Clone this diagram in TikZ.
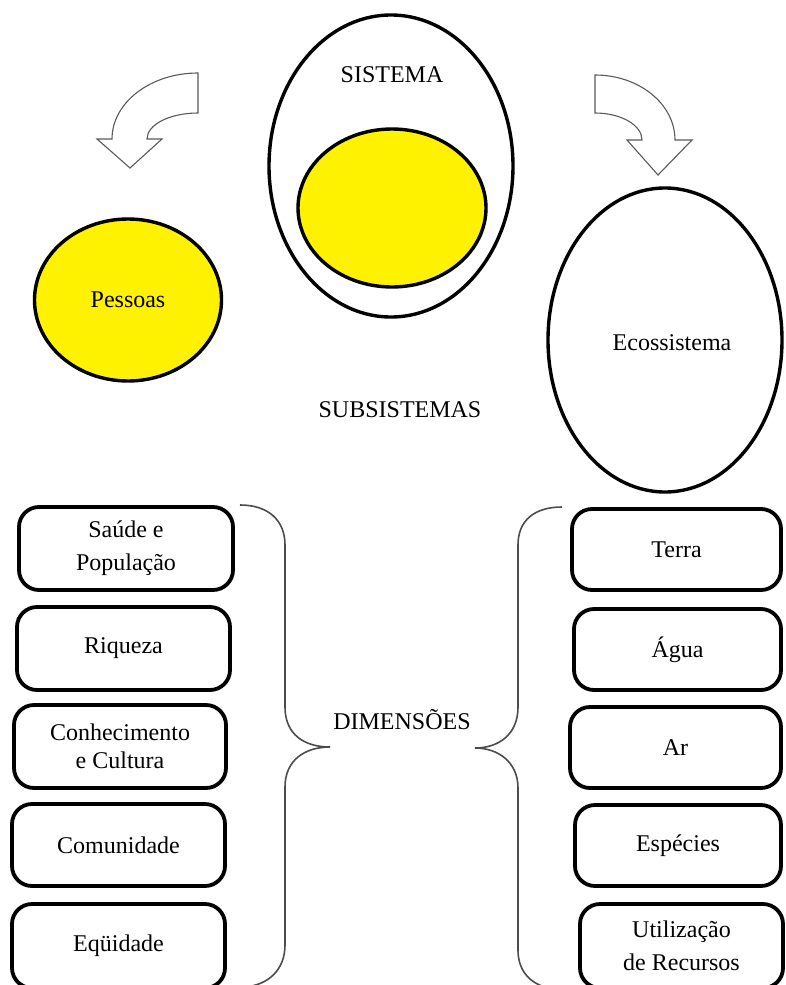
\documentclass[tikz,border=0pt]{standalone}
\usepackage{fontspec}
\setmainfont{Liberation Serif}
\usetikzlibrary{shapes.geometric}
\definecolor{sunyellow}{RGB}{255,242,0}
\begin{document}
\begin{tikzpicture}[x=1pt,y=-1pt,
  bigell/.style={ellipse, draw, line width=3.4pt, inner sep=0pt, font=\fontsize{24}{30}\selectfont},
  dimbox/.style={draw, line width=3.8pt, rounded corners=20pt, align=center, inner sep=0pt, font=\fontsize{24}{33}\selectfont},
  lbl/.style={font=\fontsize{24}{30}\selectfont, inner sep=0pt},
  bendarrow/.style={draw=black!65, line width=1.1pt, line join=miter},
  bracket/.style={draw=black!70, line width=1.6pt}]
\useasboundingbox (0,0) rectangle (785,985);
\clip (0,0) rectangle (785,985);

% ellipses
\node[bigell, minimum width=244pt, minimum height=302pt] (sistema) at (391,166) {};
\node[bigell, fill=sunyellow, minimum width=188pt, minimum height=158pt] (nucleo) at (392,208) {};
\node[bigell, fill=sunyellow, minimum width=187pt, minimum height=162pt] (pessoas) at (128,300) {Pessoas};
\node[bigell, minimum width=234pt, minimum height=304pt] (eco) at (665,340) {};
\node[lbl] (ecotxt) at (672,343) {Ecossistema};

\node[lbl] (sistxt) at (392,75) {SISTEMA};
\node[lbl] (subsis) at (400,410) {SUBSISTEMAS};
\node[lbl] (dim) at (402,720) {DIMENSÕES};

% curved arrows
\draw[bendarrow] (198,73) .. controls (150.5,73) and (112,102.6) .. (112,139)
  -- (97,139) -- (130,168) -- (162,139) -- (147,139)
  .. controls (147,124.6) and (169.8,113) .. (198,113) -- cycle;
\draw[bendarrow] (595,75) .. controls (639.2,75) and (675,104.1) .. (675,140)
  -- (692,140) -- (658,175) -- (627,140) -- (642,140)
  .. controls (642,125.1) and (621,113) .. (595,113) -- cycle;

% left boxes
\node[dimbox, minimum width=214pt, minimum height=83pt] (saude) at (126,548.5) {Saúde e\\População};
\node[dimbox, minimum width=213pt, minimum height=83pt] (riqueza) at (123.5,648.5) {Riqueza};
\node[dimbox, minimum width=212pt, minimum height=83pt, font=\fontsize{24}{28}\selectfont] (conhec) at (120,746.5) {Conhecimento\\e Cultura};
\node[dimbox, minimum width=213pt, minimum height=82pt] (comun) at (118.5,845) {Comunidade};
\node[dimbox, minimum width=213pt, minimum height=84pt] (equid) at (118.5,946) {Eqüidade};

% right boxes
\node[dimbox, minimum width=209pt, minimum height=81pt] (terra) at (676.5,549.5) {Terra};
\node[dimbox, minimum width=207pt, minimum height=81pt] (agua) at (677.5,649.5) {Água};
\node[dimbox, minimum width=211pt, minimum height=81pt] (ar) at (675.5,747.5) {Ar};
\node[dimbox, minimum width=206pt, minimum height=81pt] (especies) at (678,845.5) {Espécies};
\node[dimbox, minimum width=203pt, minimum height=84pt] (util) at (681.5,946) {Utilização\\de Recursos};

% braces
\draw[bracket] (240,505) .. controls (268,505) and (285,520) .. (285,545) -- (285,707)
  .. controls (285,735) and (305,747) .. (330,747)
  .. controls (305,747) and (285,760) .. (285,787) -- (285,945)
  .. controls (285,970) and (268,985) .. (245,987);
\draw[bracket] (562,507) .. controls (535,507) and (518,520) .. (518,545) -- (518,707)
  .. controls (518,735) and (498,748) .. (475,748)
  .. controls (498,748) and (518,762) .. (518,788) -- (518,950)
  .. controls (518,975) and (535,988) .. (560,990);
\end{tikzpicture}
\end{document}
